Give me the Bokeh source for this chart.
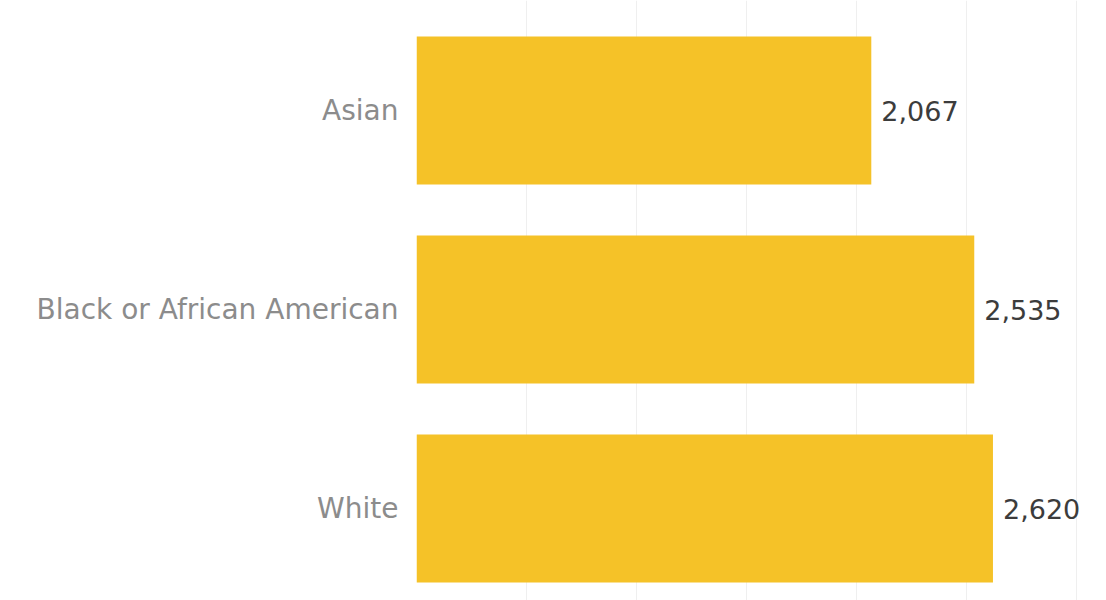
from bokeh.plotting import figure
from bokeh.models import Range1d, ColumnDataSource, FixedTicker, LabelSet
from bokeh.core.properties import value
from bokeh.embed import file_html
from bokeh.resources import INLINE

categories = ["Asian", "Black or African American", "White"]
values = [2067, 2535, 2620]
value_labels = ["2,067", "2,535", "2,620"]

# row positions (top to bottom)
ypos = [len(categories) - 1 - i for i in range(len(categories))]

src = ColumnDataSource(dict(y=ypos, v=values, lab=value_labels, cat=categories))

p = figure(width=1106, height=600, output_backend="svg", toolbar_location=None,
           x_range=Range1d(0, 3136), y_range=Range1d(-0.462, 2.553),
           min_border_left=416, min_border_right=0, min_border_top=0, min_border_bottom=0)

p.hbar(y="y", right="v", left=0, height=0.744, source=src,
       fill_color="#F5C228", line_color=None)

labels = LabelSet(x="v", y="y", text="lab", source=src, x_offset=10,
                  text_baseline="middle", text_align="left",
                  text_font=value("DejaVu Sans"), text_font_size="27px",
                  text_color="#3c3c3c")
p.add_layout(labels)

p.xaxis.visible = False
p.xgrid.ticker = FixedTicker(ticks=[0, 500, 1000, 1500, 2000, 2500, 3000])
p.xgrid.grid_line_color = "#efefef"
p.xgrid.grid_line_width = 1
p.ygrid.visible = False

p.yaxis.ticker = FixedTicker(ticks=ypos)
p.yaxis.major_label_overrides = {y: c for y, c in zip(ypos, categories)}
p.yaxis.axis_line_color = None
p.yaxis.major_tick_line_color = None
p.yaxis.minor_tick_line_color = None
p.yaxis.major_label_standoff = 12
p.yaxis.major_label_text_font = "DejaVu Sans"
p.yaxis.major_label_text_font_size = "28px"
p.yaxis.major_label_text_color = "#8c8c8c"
p.outline_line_color = None

open("out.html", "w").write(file_html(p, INLINE))
